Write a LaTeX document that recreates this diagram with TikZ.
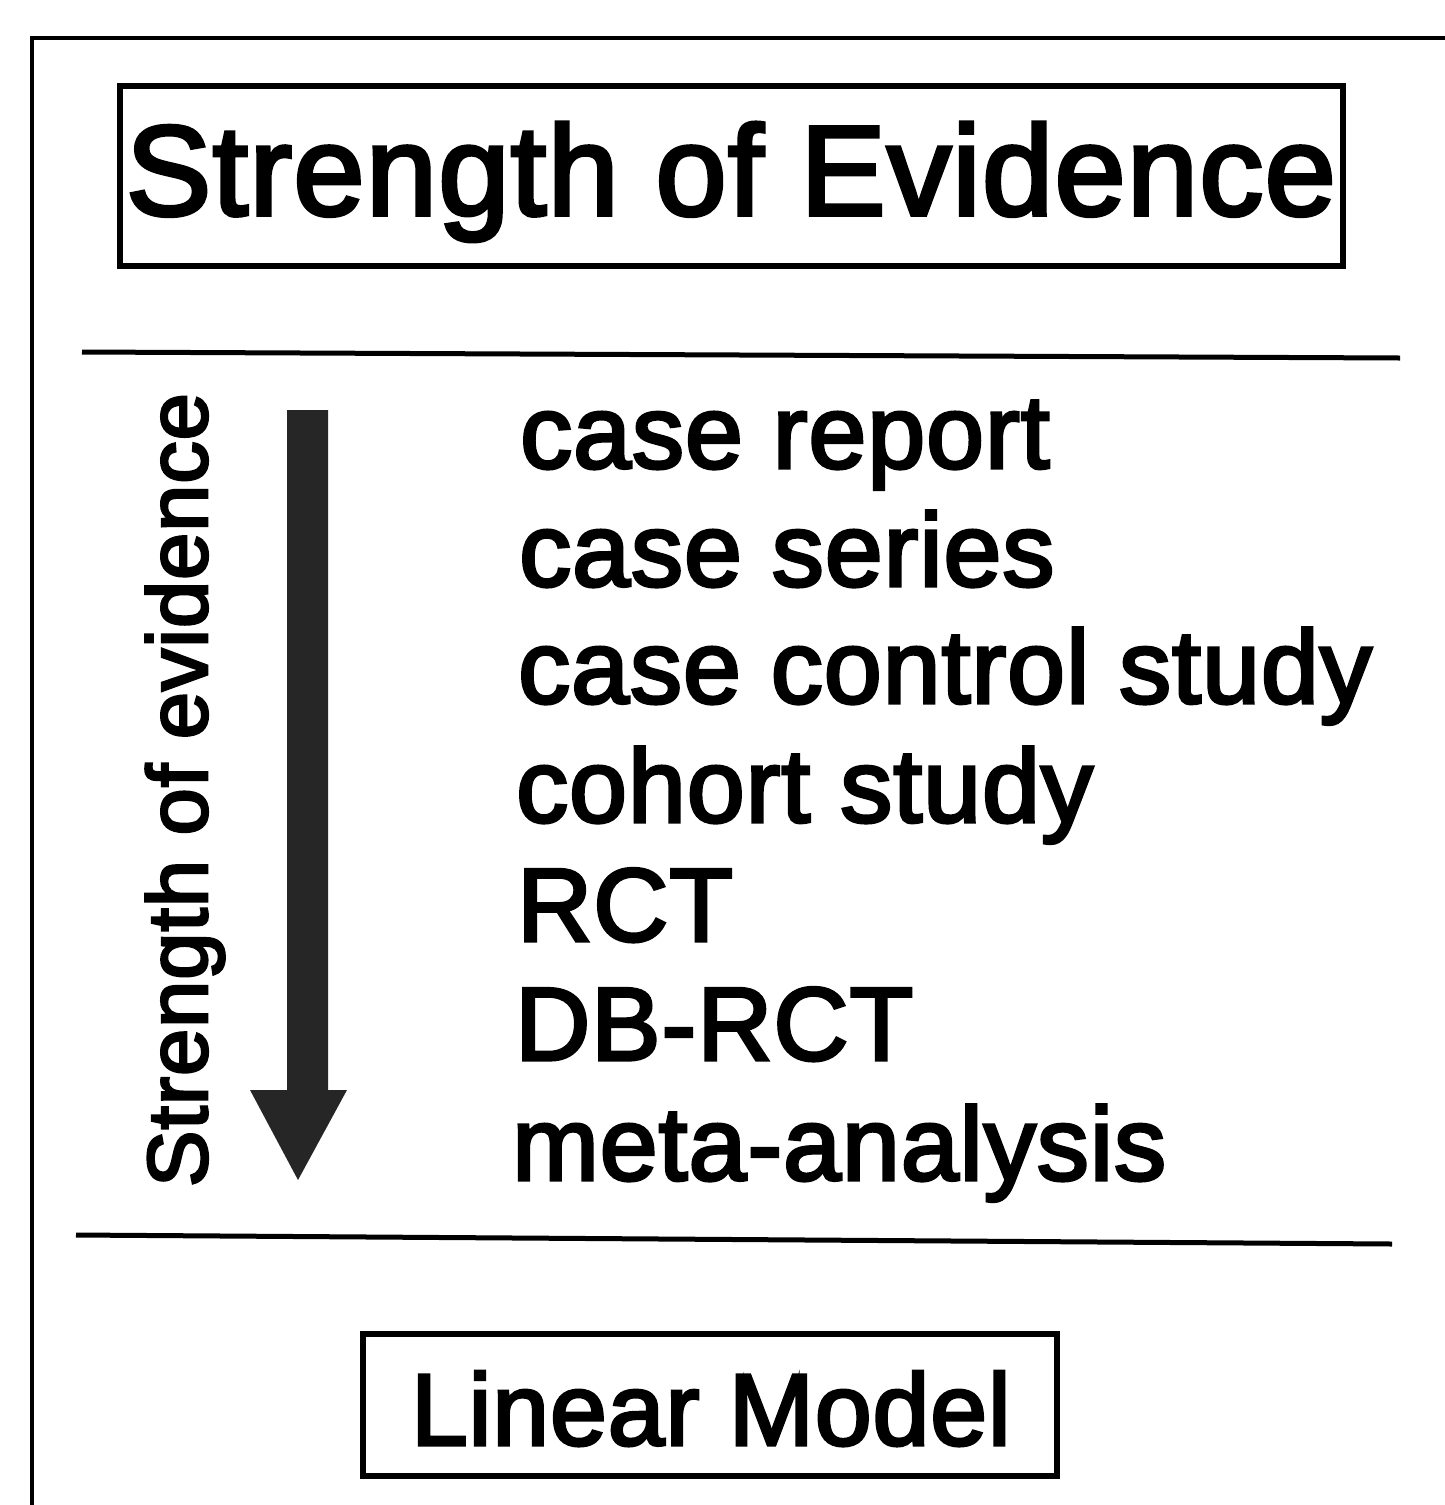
\documentclass[tikz,border=0pt]{standalone}
\usepackage{fontspec}
\setmainfont{Liberation Sans}
\newfontfamily\hv{Liberation Sans}[FakeBold=3,LetterSpace=1]
\begin{document}
\begin{tikzpicture}[x=1pt,y=-1pt,
  item/.style={anchor=base west,inner sep=0pt,font=\hv\fontsize{104}{104}\selectfont},
  rule/.style={line width=5pt},
  boxline/.style={draw,line width=6.5pt}]
\useasboundingbox (0,0) rectangle (1445,1505);
\clip (0,0) rectangle (1445,1505);
% outer frame
\draw[line width=4pt] (32,1560) -- (32,38) -- (1500,38);
% title box
\draw[boxline] (120,86) rectangle (1343,266);
\node[anchor=base,inner sep=0pt,font=\hv\fontsize{128}{128}\selectfont] (title) at (731,215) {Strength of Evidence};
% rules
\draw[rule] (82,352) -- (1400,358);
\draw[rule] (76,1235) -- (1392,1244);
% arrow
\fill[black!85] (287,410) -- (328,410) -- (328,1090) -- (347,1090) -- (298,1180) -- (250,1090) -- (287,1090) -- cycle;
% vertical label
\node[rotate=90,anchor=base,inner sep=0pt,font=\hv\fontsize{85}{85}\selectfont] (vlab) at (207,790) {Strength of evidence};
% list
\node[item] (i1) at (520,468) {case report};
\node[item] (i2) at (519,586) {case series};
\node[item] (i3) at (518,703) {case control study};
\node[item] (i4) at (516,822) {cohort study};
\node[item] (i5) at (517,941) {RCT};
\node[item] (i6) at (515,1060) {DB-RCT};
\node[item] (i7) at (512,1180) {meta-analysis};
% linear model box
\draw[boxline] (363,1334) rectangle (1057,1476);
\node[anchor=base,inner sep=0pt,font=\hv\fontsize{102}{102}\selectfont] (lm) at (711,1445) {Linear Model};
\end{tikzpicture}
\end{document}
